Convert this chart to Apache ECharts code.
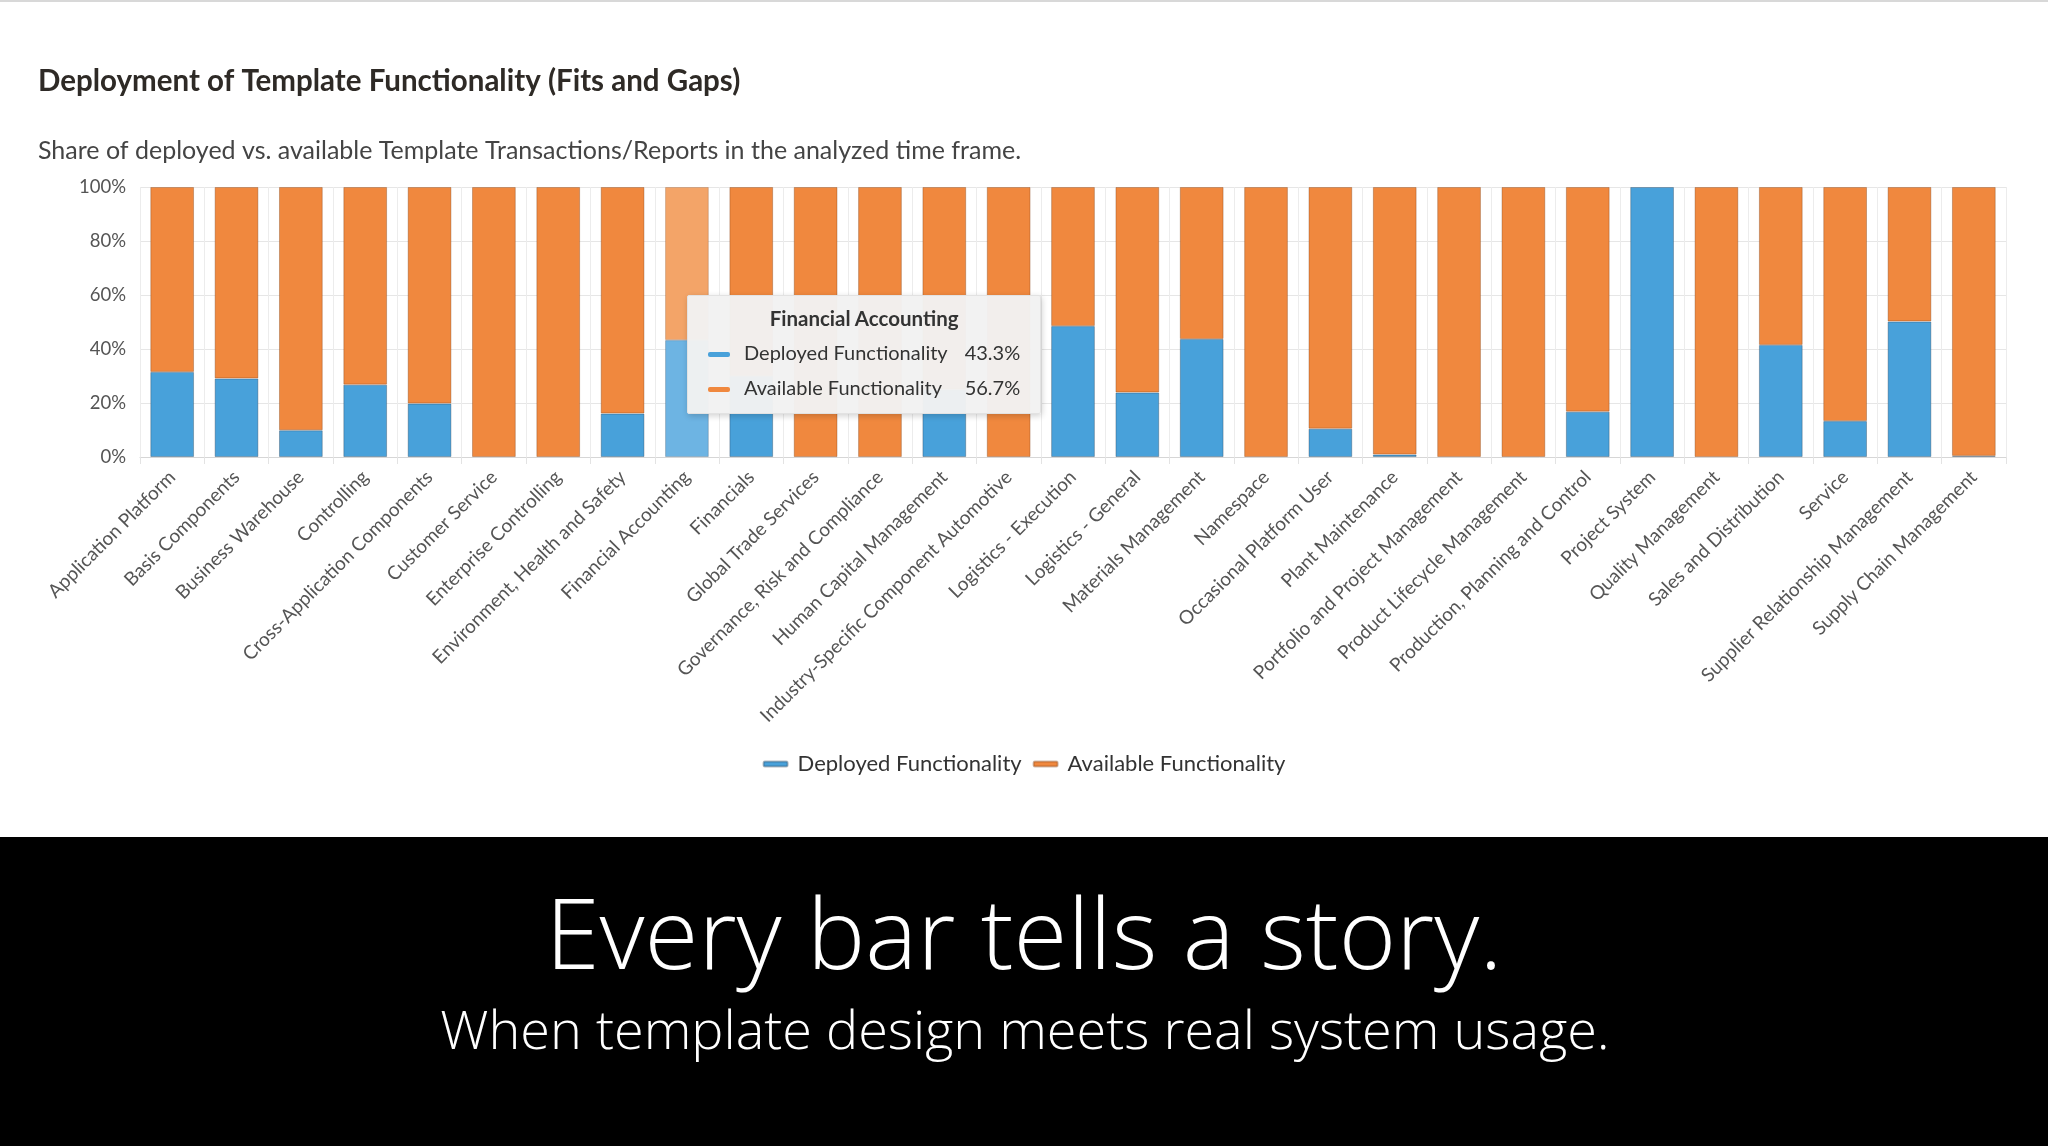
<!DOCTYPE html>
<html>
<head>
<meta charset="utf-8">
<script src="https://cdn.jsdelivr.net/npm/echarts@6/dist/echarts.min.js"></script>
<style>
  html, body { margin: 0; padding: 0; background: #fff; }
  #chart { width: 2048px; height: 1146px; }
</style>
</head>
<body>
<div id="chart"></div>
<script>
const categories = [
  'Application Platform', 'Basis Components', 'Business Warehouse', 'Controlling',
  'Cross-Application Components', 'Customer Service', 'Enterprise Controlling',
  'Environment, Health and Safety', 'Financial Accounting', 'Financials',
  'Global Trade Services', 'Governance, Risk and Compliance', 'Human Capital Management',
  'Industry-Specific Component Automotive', 'Logistics - Execution', 'Logistics - General',
  'Materials Management', 'Namespace', 'Occasional Platform User', 'Plant Maintenance',
  'Portfolio and Project Management', 'Product Lifecycle Management',
  'Production, Planning and Control', 'Project System', 'Quality Management',
  'Sales and Distribution', 'Service', 'Supplier Relationship Management',
  'Supply Chain Management'
];
// Deployed share (%) per category
const deployed = [
  31.5, 29.1, 9.9, 26.8, 19.8, 0, 0, 16.1, 43.3, 30.0,
  0, 0, 25.0, 0, 48.5, 23.9, 43.7, 0, 10.5, 0.9,
  0, 0, 16.8, 100, 0, 41.5, 13.3, 50.2, 0.4
];
// Available (not deployed) share (%) per category
const available = [
  68.5, 70.9, 90.1, 73.2, 80.2, 100, 100, 83.9, 56.7, 70.0,
  100, 100, 75.0, 100, 51.5, 76.1, 56.3, 100, 89.5, 99.1,
  100, 100, 83.2, 0, 100, 58.5, 86.7, 49.8, 99.6
];
const yTicks = [0, 20, 40, 60, 80, 100];
const seriesNames = ['Deployed Functionality', 'Available Functionality'];
const chartTitle = 'Deployment of Template Functionality (Fits and Gaps)';
const chartSubtitle = 'Share of deployed vs. available Template Transactions/Reports in the analyzed time frame.';
const bannerTitle = 'Every bar tells a story.';
const bannerSubtitle = 'When template design meets real system usage.';
const hoveredIndex = 8;

const colors = ['#48A1DA', '#F0883E'];
const hoverColors = ['#6DB4E3', '#F3A468'];

const chart = echarts.init(document.getElementById('chart'), null, { renderer: 'canvas' });

function fmt(v) { return (v == null ? 0 : v).toFixed(1) + '%'; }

const option = {
  animation: false,
  backgroundColor: '#ffffff',
  textStyle: { fontFamily: 'Lato' },
  title: [
    {
      text: chartTitle, left: 33, top: 61,
      textStyle: { fontFamily: 'Lato', fontWeight: 'bold', fontSize: 29.5, color: '#2e2a26', lineHeight: 30 }
    },
    {
      text: chartSubtitle, left: 33, top: 133,
      textStyle: { fontFamily: 'Lato', fontWeight: 'normal', fontSize: 25, color: '#444444', lineHeight: 26 }
    }
  ],
  graphic: [
    { type: 'rect', left: 0, top: 0, shape: { width: 2048, height: 2 }, style: { fill: '#d8d8d8' }, silent: true },
    { type: 'rect', left: 0, top: 837, shape: { width: 2048, height: 309 }, style: { fill: '#000000' }, silent: true },
    { type: 'text', x: 1024, y: 941, style: { text: bannerTitle, fill: '#ffffff', font: '300 98px "Open Sans"', align: 'center', verticalAlign: 'middle' }, silent: true },
    { type: 'text', x: 1025, y: 1034, style: { text: bannerSubtitle, fill: '#ffffff', font: '300 54px "Open Sans"', align: 'center', verticalAlign: 'middle' }, silent: true }
  ],
  legend: {
    data: seriesNames,
    left: 'center',
    top: 748,
    icon: 'roundRect',
    itemWidth: 24,
    itemHeight: 5,
    itemGap: 11,
    textStyle: { fontFamily: 'Lato', fontSize: 22, color: '#333333', padding: [0, 0, 0, 5] },
    selectedMode: false
  },
  tooltip: {
    trigger: 'axis',
    axisPointer: { type: 'none' },
    alwaysShowContent: true,
    transitionDuration: 0,
    backgroundColor: 'rgba(242,242,242,0.97)',
    borderColor: '#e2e2e2',
    borderWidth: 1,
    padding: [5, 20, 8, 20],
    extraCssText: 'box-shadow: 1px 2px 6px rgba(0,0,0,0.18); border-radius: 2px;',
    position: function () { return [687, 295]; },
    formatter: function (params) {
      const idx = params[0].dataIndex;
      const vals = [deployed[idx], available[idx]];
      let html = '<div style="font-family:Lato;color:#333;">';
      html += '<div style="text-align:center;font-weight:bold;font-size:20.5px;line-height:34px;">' + categories[idx] + '</div>';
      html += '<table style="border-collapse:collapse;font-size:20px;">';
      for (let i = 0; i < seriesNames.length; i++) {
        html += '<tr style="height:35px;">' +
          '<td style="padding:0 14px 0 0;"><span style="display:inline-block;width:22px;height:5px;border-radius:2px;background:' + colors[i] + ';vertical-align:middle;"></span></td>' +
          '<td style="padding:0;color:#333;">' + seriesNames[i] + '</td>' +
          '<td style="padding:0 0 0 17px;text-align:right;color:#333;">' + fmt(vals[i]) + '</td>' +
          '</tr>';
      }
      html += '</table></div>';
      return html;
    }
  },
  grid: { left: 140, right: 42, top: 187, bottom: 689, containLabel: false },
  xAxis: {
    type: 'category',
    data: categories,
    boundaryGap: true,
    axisLine: { show: true, lineStyle: { color: '#d6d6d6', width: 1 } },
    axisTick: { show: true, length: 7, alignWithLabel: false, lineStyle: { color: '#e3e3e3' } },
    splitLine: { show: true, interval: 0, lineStyle: { color: '#ececec', width: 1 } },
    axisLabel: {
      interval: 0, rotate: 45, margin: 17,
      fontFamily: 'Lato', fontSize: 19, color: '#555555'
    }
  },
  yAxis: {
    type: 'value',
    min: yTicks[0], max: yTicks[yTicks.length - 1], interval: 20,
    axisLine: { show: false },
    axisTick: { show: false },
    splitLine: { show: true, lineStyle: { color: '#e6e6e6', width: 1 } },
    axisLabel: {
      margin: 14, fontFamily: 'Lato', fontSize: 18.5, color: '#555555',
      formatter: function (v) { return v + '%'; }
    }
  },
  series: [
    {
      name: seriesNames[0], type: 'bar', stack: 'total', barCategoryGap: '32%',
      data: deployed.map(v => (v === 0 ? '-' : v)),
      itemStyle: { color: colors[0], borderColor: 'rgba(40,60,80,0.35)', borderWidth: 1 },
      emphasis: { focus: 'none', itemStyle: { color: hoverColors[0], borderColor: 'rgba(40,60,80,0.25)', borderWidth: 1 } }
    },
    {
      name: seriesNames[1], type: 'bar', stack: 'total', barCategoryGap: '32%',
      data: available.map(v => (v === 0 ? '-' : v)),
      itemStyle: { color: colors[1], borderColor: 'rgba(120,60,20,0.35)', borderWidth: 1 },
      emphasis: { focus: 'none', itemStyle: { color: hoverColors[1], borderColor: 'rgba(120,60,20,0.25)', borderWidth: 1 } }
    }
  ]
};

chart.setOption(option);
chart.dispatchAction({ type: 'showTip', seriesIndex: 0, dataIndex: hoveredIndex });
chart.dispatchAction({ type: 'highlight', seriesIndex: [0, 1], dataIndex: hoveredIndex });
</script>
</body>
</html>
